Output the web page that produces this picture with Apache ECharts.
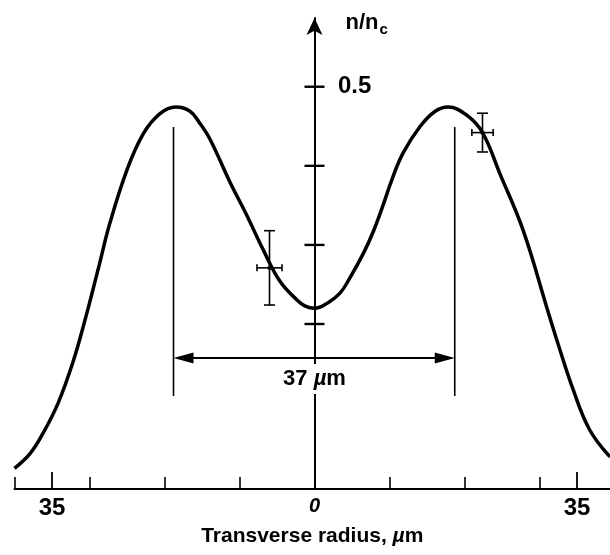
<!DOCTYPE html>
<html>
<head>
<meta charset="utf-8">
<script src="https://cdn.jsdelivr.net/npm/echarts@6/dist/echarts.min.js"></script>
<style>
  html, body { margin: 0; padding: 0; background: #fff; }
  #chart { width: 610px; height: 555px; }
</style>
</head>
<body>
<div id="chart"></div>
<script>
  // density profile n/nc against transverse radius (µm)
  const radius = [-40, -37.9, -36.2, -34.2, -32.2, -30.6, -28.8, -27.3, -25.0, -22.8, -20.6, -18.5,
    -16.6, -15.3, -13.9, -11.3, -9.0, -6.9, -4.6, -2.3, -1.3, 0, 1.8, 3.4, 4.7, 6.5, 7.8, 9.1, 10.3, 11.8, 14.1, 16.1, 17.8,
    20.3, 22.4, 24.7, 27.8, 31.0, 32.3, 34.5, 36.7, 39.4]
  const density = [0.0176, 0.0365, 0.0618, 0.0997, 0.152, 0.205, 0.271, 0.327, 0.395, 0.441, 0.466, 0.4743,
    0.469, 0.454, 0.433, 0.380, 0.337, 0.295, 0.254, 0.230, 0.223, 0.220, 0.227, 0.239, 0.258, 0.289, 0.316, 0.349, 0.382, 0.416, 0.450, 0.469, 0.4743,
    0.464, 0.442, 0.3905, 0.319, 0.220, 0.180, 0.1166, 0.066, 0.032]

  // measured points with error bars
  const errRadius = [-6.0, 22.4]
  const errDensity = [0.271, 0.442]
  const errRadiusHalf = [1.67, 1.42]
  const errDensityHalf = [0.047, 0.0245]

  // peak separation marker
  const peakLines = [-18.8, 18.7]
  const peakLineTop = 0.449
  const peakLineBottom = 0.109
  const spanLevel = 0.157
  const spanLabelLevel = 0.1305

  // axes
  const xMin = -40
  const xMax = 39.4
  const yMin = -0.0086
  const yMax = 0.5869
  const xTicks = [-40, -30, -20, -10, 0, 10, 20, 30]
  const xLongTicks = [-35, 35]
  const xLabels = [-35, 0, 35]
  const yTicks = [0.2, 0.3, 0.4, 0.5]
  const yLabels = [0.5]

  const font = "'Liberation Sans', Arial, sans-serif"
  const black = '#000'

  function renderErrorBar(params, api) {
    const x = api.value(0), y = api.value(1), dx = api.value(2), dy = api.value(3)
    const c = api.coord([x, y])
    const top = api.coord([x, y + dy])
    const bot = api.coord([x, y - dy])
    const l = api.coord([x - dx, y])
    const r = api.coord([x + dx, y])
    const style = { stroke: black, lineWidth: 1.6 }
    const cap = 5.5, hcap = 3.5
    return {
      type: 'group',
      children: [
        { type: 'line', shape: { x1: top[0], y1: top[1], x2: bot[0], y2: bot[1] }, style },
        { type: 'line', shape: { x1: top[0] - cap, y1: top[1], x2: top[0] + cap, y2: top[1] }, style },
        { type: 'line', shape: { x1: bot[0] - cap, y1: bot[1], x2: bot[0] + cap, y2: bot[1] }, style },
        { type: 'line', shape: { x1: l[0], y1: l[1], x2: r[0], y2: r[1] }, style },
        { type: 'line', shape: { x1: l[0], y1: l[1] - hcap, x2: l[0], y2: l[1] + hcap }, style },
        { type: 'line', shape: { x1: r[0], y1: r[1] - hcap, x2: r[0], y2: r[1] + hcap }, style },
        { type: 'circle', shape: { cx: c[0], cy: c[1], r: 2.2 }, style: { fill: black } }
      ]
    }
  }

  function renderSpanArrow(params, api) {
    const a = api.coord([api.value(0), api.value(2)])
    const b = api.coord([api.value(1), api.value(2)])
    const len = 20, half = 5.5
    return {
      type: 'group',
      children: [
        { type: 'line', shape: { x1: a[0] + 4, y1: a[1], x2: b[0] - 4, y2: b[1] }, style: { stroke: black, lineWidth: 2 } },
        { type: 'polygon', shape: { points: [[a[0], a[1]], [a[0] + len, a[1] - half], [a[0] + len, a[1] + half]] }, style: { fill: black } },
        { type: 'polygon', shape: { points: [[b[0], b[1]], [b[0] - len, b[1] - half], [b[0] - len, b[1] + half]] }, style: { fill: black } }
      ]
    }
  }

  const chart = echarts.init(document.getElementById('chart'))

  const guideSeries = peakLines.map(x => ({
    type: 'line',
    silent: true,
    symbol: 'none',
    lineStyle: { color: black, width: 1.6 },
    data: [[x, peakLineBottom], [x, peakLineTop]]
  }))

  chart.setOption({
    animation: false,
    backgroundColor: '#fff',
    grid: { left: 14.5, right: 0, top: 18, bottom: 66 },
    xAxis: {
      type: 'value',
      min: xMin,
      max: xMax,
      splitLine: { show: false },
      axisLine: { onZero: false, lineStyle: { color: black, width: 2 } },
      axisTick: { inside: true, length: 12, customValues: xTicks, lineStyle: { color: black, width: 1.6 } },
      axisLabel: {
        customValues: xLabels,
        margin: 7,
        formatter: v => v === 0 ? '{z|0}' : '{n|' + Math.abs(v) + '}',
        rich: {
          n: { fontFamily: font, fontWeight: 'bold', fontSize: 24, color: black },
          z: { fontFamily: font, fontWeight: 'bold', fontStyle: 'italic', fontSize: 20, color: black }
        }
      },
      name: 'Transverse radius, {mu|µ}m',
      nameLocation: 'middle',
      nameGap: 37,
      nameTextStyle: {
        fontFamily: font, fontWeight: 'bold', fontSize: 21, color: black,
        rich: { mu: { fontFamily: font, fontWeight: 'bold', fontStyle: 'italic', fontSize: 21, color: black } }
      }
    },
    yAxis: {
      type: 'value',
      min: yMin,
      max: yMax,
      splitLine: { show: false },
      axisLine: {
        onZero: true,
        symbol: ['none', 'arrow'],
        symbolSize: [12, 17],
        lineStyle: { color: black, width: 2 }
      },
      axisTick: { show: false },
      axisLabel: { show: false },
      name: 'n/n{c|c}',
      nameLocation: 'end',
      nameGap: -5,
      nameTextStyle: {
        align: 'left',
        verticalAlign: 'middle',
        padding: [0, 0, 0, 31],
        fontFamily: font, fontWeight: 'bold', fontSize: 22, color: black,
        rich: { c: { fontFamily: font, fontWeight: 'bold', fontSize: 15, color: black, padding: [13, 0, 0, 1] } }
      }
    },
    series: [
      {
        name: 'profile',
        type: 'line',
        smooth: 0.4,
        symbol: 'none',
        silent: true,
        lineStyle: { color: black, width: 3.5 },
        data: radius.map((x, i) => [x, density[i]])
      },
      ...guideSeries,
      {
        type: 'custom',
        silent: true,
        renderItem: renderSpanArrow,
        data: [[peakLines[0], peakLines[1], spanLevel]]
      },
      {
        type: 'custom',
        silent: true,
        renderItem: renderErrorBar,
        encode: { x: 0, y: 1 },
        data: errRadius.map((x, i) => [x, errDensity[i], errRadiusHalf[i], errDensityHalf[i]])
      },
      {
        // cross ticks on the vertical axis
        type: 'scatter',
        silent: true,
        symbol: 'rect',
        symbolSize: [20, 2.4],
        itemStyle: { color: black, opacity: 1 },
        data: yTicks.map(v => [0, v])
      },
      {
        // tick label on the vertical axis
        type: 'scatter',
        silent: true,
        symbolSize: 1,
        itemStyle: { color: 'transparent', opacity: 1 },
        label: {
          show: true,
          position: 'right',
          distance: 23,
          color: black,
          fontFamily: font,
          fontWeight: 'bold',
          fontSize: 24,
          formatter: p => String(p.value[1])
        },
        data: yLabels.map(v => [0, v])
      },
      {
        // longer ticks at ±35
        type: 'scatter',
        silent: true,
        symbol: 'rect',
        symbolSize: [1.8, 17],
        symbolOffset: [0, -8.5],
        itemStyle: { color: black, opacity: 1 },
        data: xLongTicks.map(v => [v, yMin])
      },
      {
        type: 'scatter',
        silent: true,
        symbolSize: 1,
        itemStyle: { color: 'transparent', opacity: 1 },
        label: {
          show: true,
          position: 'inside',
          color: black,
          textBorderWidth: 0,
          backgroundColor: '#fff',
          padding: [4, 3],
          formatter: '{a|37 }{m|µ}{a|m}',
          rich: {
            a: { fontFamily: font, fontWeight: 'bold', fontSize: 22, color: black },
            m: { fontFamily: font, fontWeight: 'bold', fontStyle: 'italic', fontSize: 22, color: black }
          }
        },
        data: [[0, spanLabelLevel]]
      }
    ]
  })
</script>
</body>
</html>
